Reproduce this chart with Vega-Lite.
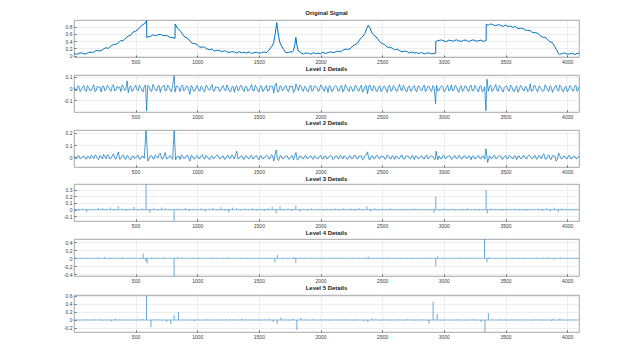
{
"$schema": "https://vega.github.io/schema/vega-lite/v6.json",
"background": "white",
"padding": {"left": 62, "top": 9, "right": 5, "bottom": 5},
"config": {
  "view": {"stroke": "#8f8f8f", "strokeWidth": 0.8},
  "axis": {"labelFontSize": 5, "labelColor": "#3a3a3a", "labelFont": "Liberation Sans", "gridColor": "#e3e3e3", "gridWidth": 0.6, "domain": false, "tickColor": "#666", "tickSize": -2, "labelPadding": 4, "title": null, "labelOverlap": false},
  "title": {"fontSize": 6, "fontWeight": "bold", "font": "Liberation Sans", "offset": 2.5, "color": "#1a1a1a"},
  "concat": {"spacing": 0}
},
"datasets": {
"zero": [{"v": 0}],
"sig": [
{"x":1,"y":0.062},{"x":20,"y":0.032},{"x":40,"y":0.059},{"x":60,"y":0.077},{"x":80,"y":0.052},{"x":100,"y":0.044},{"x":120,"y":0.092},{"x":140,"y":0.091},{"x":160,"y":0.088},{"x":180,"y":0.142},{"x":200,"y":0.129},{"x":220,"y":0.133},{"x":240,"y":0.184},{"x":260,"y":0.216},{"x":280,"y":0.198},{"x":300,"y":0.258},{"x":320,"y":0.306},{"x":340,"y":0.307},{"x":360,"y":0.348},{"x":380,"y":0.409},{"x":400,"y":0.411},{"x":420,"y":0.484},{"x":440,"y":0.536},{"x":460,"y":0.555},{"x":480,"y":0.646},{"x":500,"y":0.673},{"x":520,"y":0.713},{"x":540,"y":0.802},{"x":560,"y":0.856},{"x":580,"y":0.892},{"x":590,"y":0.969},
{"x":591,"y":0.492},{"x":600,"y":0.519},{"x":620,"y":0.521},{"x":640,"y":0.576},{"x":660,"y":0.543},{"x":680,"y":0.571},{"x":700,"y":0.585},{"x":720,"y":0.552},{"x":740,"y":0.549},{"x":760,"y":0.547},{"x":780,"y":0.496},{"x":800,"y":0.495},{"x":820,"y":0.471},
{"x":821,"y":0.871},{"x":840,"y":0.75},{"x":860,"y":0.692},{"x":880,"y":0.596},{"x":900,"y":0.508},{"x":920,"y":0.485},{"x":940,"y":0.402},{"x":960,"y":0.339},{"x":980,"y":0.33},{"x":1000,"y":0.303},{"x":1020,"y":0.229},{"x":1040,"y":0.235},{"x":1060,"y":0.23},{"x":1080,"y":0.178},{"x":1100,"y":0.167},{"x":1120,"y":0.175},{"x":1140,"y":0.124},{"x":1160,"y":0.144},{"x":1180,"y":0.141},{"x":1200,"y":0.103},{"x":1220,"y":0.136},{"x":1240,"y":0.104},{"x":1260,"y":0.082},{"x":1280,"y":0.108},{"x":1300,"y":0.097},{"x":1320,"y":0.065},{"x":1340,"y":0.106},{"x":1360,"y":0.077},{"x":1380,"y":0.092},{"x":1400,"y":0.067},{"x":1420,"y":0.103},{"x":1440,"y":0.057},{"x":1460,"y":0.079},{"x":1480,"y":0.092},{"x":1500,"y":0.066},{"x":1520,"y":0.077},{"x":1540,"y":0.099},{"x":1560,"y":0.084},{"x":1580,"y":0.143},{"x":1600,"y":0.234},{"x":1610,"y":0.272},{"x":1620,"y":0.361},{"x":1630,"y":0.552},{"x":1640,"y":0.769},{"x":1645,"y":0.907},{"x":1650,"y":0.792},{"x":1660,"y":0.533},{"x":1670,"y":0.363},{"x":1680,"y":0.29},{"x":1700,"y":0.172},{"x":1720,"y":0.076},{"x":1740,"y":0.087},{"x":1760,"y":0.106},{"x":1770,"y":0.09},{"x":1780,"y":0.139},{"x":1790,"y":0.267},{"x":1800,"y":0.5},{"x":1810,"y":0.261},{"x":1820,"y":0.125},{"x":1830,"y":0.119},{"x":1840,"y":0.073},{"x":1860,"y":0.044},{"x":1880,"y":0.071},{"x":1900,"y":0.064},{"x":1920,"y":0.035},{"x":1940,"y":0.079},{"x":1960,"y":0.052},{"x":1980,"y":0.069},{"x":2000,"y":0.046},{"x":2020,"y":0.096},{"x":2040,"y":0.055},{"x":2060,"y":0.082},{"x":2080,"y":0.101},{"x":2100,"y":0.08},{"x":2120,"y":0.097},{"x":2140,"y":0.122},{"x":2160,"y":0.104},{"x":2180,"y":0.144},{"x":2200,"y":0.177},{"x":2220,"y":0.171},{"x":2240,"y":0.186},{"x":2260,"y":0.263},{"x":2280,"y":0.298},{"x":2300,"y":0.34},{"x":2320,"y":0.452},{"x":2340,"y":0.513},{"x":2360,"y":0.61},{"x":2375,"y":0.744},{"x":2387,"y":0.835},{"x":2400,"y":0.762},{"x":2420,"y":0.603},{"x":2440,"y":0.541},{"x":2460,"y":0.479},{"x":2480,"y":0.38},{"x":2500,"y":0.33},{"x":2520,"y":0.307},{"x":2540,"y":0.23},{"x":2560,"y":0.228},{"x":2580,"y":0.207},{"x":2600,"y":0.155},{"x":2620,"y":0.177},{"x":2640,"y":0.135},{"x":2660,"y":0.105},{"x":2680,"y":0.125},{"x":2700,"y":0.109},{"x":2720,"y":0.072},{"x":2740,"y":0.1},{"x":2760,"y":0.068},{"x":2780,"y":0.081},{"x":2800,"y":0.054},{"x":2820,"y":0.088},{"x":2840,"y":0.042},{"x":2860,"y":0.063},{"x":2880,"y":0.075},{"x":2900,"y":0.045},{"x":2920,"y":0.058},{"x":2934,"y":0.069},
{"x":2935,"y":0.392},{"x":2960,"y":0.417},{"x":2980,"y":0.431},{"x":3000,"y":0.401},{"x":3020,"y":0.386},{"x":3040,"y":0.425},{"x":3060,"y":0.413},{"x":3080,"y":0.397},{"x":3100,"y":0.436},{"x":3120,"y":0.406},{"x":3140,"y":0.39},{"x":3160,"y":0.42},{"x":3180,"y":0.428},{"x":3200,"y":0.383},{"x":3220,"y":0.415},{"x":3240,"y":0.432},{"x":3260,"y":0.399},{"x":3280,"y":0.404},{"x":3300,"y":0.427},{"x":3320,"y":0.388},{"x":3343,"y":0.418},
{"x":3344,"y":0.864},{"x":3360,"y":0.834},{"x":3380,"y":0.873},{"x":3400,"y":0.844},{"x":3420,"y":0.824},{"x":3440,"y":0.85},{"x":3460,"y":0.837},{"x":3480,"y":0.802},{"x":3500,"y":0.839},{"x":3520,"y":0.803},{"x":3540,"y":0.81},{"x":3560,"y":0.776},{"x":3580,"y":0.801},{"x":3600,"y":0.743},{"x":3620,"y":0.751},{"x":3640,"y":0.749},{"x":3660,"y":0.703},{"x":3680,"y":0.692},{"x":3700,"y":0.685},{"x":3720,"y":0.632},{"x":3740,"y":0.631},{"x":3760,"y":0.616},{"x":3780,"y":0.555},{"x":3800,"y":0.505},{"x":3820,"y":0.505},{"x":3840,"y":0.448},{"x":3860,"y":0.381},{"x":3880,"y":0.358},{"x":3900,"y":0.248},{"x":3910,"y":0.178},{"x":3920,"y":0.132},{"x":3926,"y":0.068},{"x":3940,"y":0.033},{"x":3960,"y":0.055},{"x":3980,"y":0.072},{"x":4000,"y":0.039},{"x":4020,"y":0.044},{"x":4040,"y":0.067},{"x":4060,"y":0.028},{"x":4080,"y":0.058},{"x":4096,"y":0.064}
],
"d1": [
{"x":1,"y":0.012},{"x":21,"y":-0.021},{"x":41,"y":0.018},{"x":61,"y":-0.009},{"x":81,"y":0.027},{"x":101,"y":-0.025},{"x":121,"y":0.006},{"x":141,"y":-0.014},{"x":161,"y":0.031},{"x":181,"y":-0.018},{"x":201,"y":0.01},{"x":221,"y":-0.03},{"x":241,"y":0.022},{"x":261,"y":-0.006},{"x":281,"y":0.015},{"x":301,"y":-0.024},{"x":321,"y":0.034},{"x":341,"y":-0.012},{"x":361,"y":0.004},{"x":381,"y":-0.027},{"x":401,"y":0.019},{"x":421,"y":-0.008},{"x":432,"y":0.065},{"x":441,"y":-0.035},{"x":461,"y":0.024},{"x":481,"y":-0.016},{"x":501,"y":0.028},{"x":521,"y":-0.02},{"x":541,"y":0.011},{"x":561,"y":-0.029},{"x":581,"y":0.03},{"x":590,"y":-0.19},{"x":599,"y":0.026},{"x":621,"y":-0.018},{"x":641,"y":0.035},{"x":661,"y":-0.01},{"x":681,"y":0.02},{"x":701,"y":-0.033},{"x":721,"y":0.014},{"x":741,"y":-0.022},{"x":761,"y":0.029},{"x":781,"y":-0.012},{"x":801,"y":0.024},{"x":813,"y":0.11},{"x":821,"y":-0.03},{"x":841,"y":0.017},{"x":861,"y":-0.026},{"x":881,"y":0.031},{"x":901,"y":-0.009},{"x":921,"y":0.022},{"x":941,"y":-0.05},{"x":961,"y":0.013},{"x":981,"y":-0.019},{"x":1001,"y":0.026},{"x":1021,"y":-0.024},{"x":1041,"y":0.009},{"x":1061,"y":-0.031},{"x":1081,"y":0.02},{"x":1101,"y":-0.014},{"x":1121,"y":0.033},{"x":1141,"y":-0.02},{"x":1161,"y":0.007},{"x":1181,"y":-0.028},{"x":1201,"y":0.018},{"x":1221,"y":-0.011},{"x":1241,"y":0.03},{"x":1261,"y":-0.023},{"x":1281,"y":0.012},{"x":1301,"y":-0.032},{"x":1321,"y":0.025},{"x":1341,"y":-0.006},{"x":1361,"y":0.021},{"x":1381,"y":-0.027},{"x":1401,"y":0.016},{"x":1421,"y":-0.015},{"x":1441,"y":0.034},{"x":1461,"y":-0.021},{"x":1481,"y":0.008},{"x":1501,"y":-0.03},{"x":1521,"y":0.023},{"x":1541,"y":-0.012},{"x":1561,"y":0.027},{"x":1581,"y":-0.019},{"x":1601,"y":0.014},{"x":1621,"y":-0.04},{"x":1641,"y":0.045},{"x":1661,"y":-0.025},{"x":1681,"y":0.019},{"x":1701,"y":-0.01},{"x":1721,"y":0.026},{"x":1741,"y":-0.029},{"x":1761,"y":0.011},{"x":1781,"y":-0.035},{"x":1801,"y":0.038},{"x":1821,"y":-0.017},{"x":1841,"y":0.022},{"x":1861,"y":-0.024},{"x":1881,"y":0.009},{"x":1901,"y":-0.03},{"x":1921,"y":0.028},{"x":1941,"y":-0.013},{"x":1961,"y":0.017},{"x":1981,"y":-0.026},{"x":2001,"y":0.031},{"x":2021,"y":-0.008},{"x":2041,"y":0.02},{"x":2061,"y":-0.034},{"x":2081,"y":0.015},{"x":2101,"y":-0.018},{"x":2121,"y":0.025},{"x":2141,"y":-0.022},{"x":2161,"y":0.012},{"x":2181,"y":-0.029},{"x":2201,"y":0.033},{"x":2221,"y":-0.011},{"x":2241,"y":0.019},{"x":2261,"y":-0.025},{"x":2281,"y":0.027},{"x":2301,"y":-0.016},{"x":2321,"y":0.008},{"x":2341,"y":-0.031},{"x":2361,"y":0.022},{"x":2381,"y":-0.045},{"x":2401,"y":0.03},{"x":2421,"y":-0.02},{"x":2441,"y":0.014},{"x":2461,"y":-0.027},{"x":2481,"y":0.024},{"x":2501,"y":-0.009},{"x":2521,"y":0.018},{"x":2541,"y":-0.032},{"x":2561,"y":0.029},{"x":2581,"y":-0.014},{"x":2601,"y":0.011},{"x":2621,"y":-0.025},{"x":2641,"y":0.035},{"x":2661,"y":-0.019},{"x":2681,"y":0.006},{"x":2701,"y":-0.028},{"x":2721,"y":0.021},{"x":2741,"y":-0.013},{"x":2761,"y":0.026},{"x":2781,"y":-0.03},{"x":2801,"y":0.016},{"x":2821,"y":-0.021},{"x":2841,"y":0.03},{"x":2861,"y":-0.007},{"x":2881,"y":0.019},{"x":2901,"y":-0.026},{"x":2921,"y":0.013},{"x":2933,"y":-0.13},{"x":2941,"y":0.028},{"x":2961,"y":-0.017},{"x":2981,"y":0.024},{"x":3001,"y":-0.029},{"x":3021,"y":0.01},{"x":3041,"y":-0.022},{"x":3061,"y":0.032},{"x":3081,"y":-0.012},{"x":3101,"y":0.018},{"x":3121,"y":-0.033},{"x":3141,"y":0.025},{"x":3161,"y":-0.008},{"x":3181,"y":0.02},{"x":3201,"y":-0.027},{"x":3221,"y":0.029},{"x":3241,"y":-0.016},{"x":3261,"y":0.012},{"x":3281,"y":-0.03},{"x":3301,"y":0.023},{"x":3321,"y":-0.019},{"x":3341,"y":-0.19},{"x":3350,"y":0.08},{"x":3361,"y":-0.021},{"x":3381,"y":0.027},{"x":3401,"y":-0.011},{"x":3421,"y":0.034},{"x":3441,"y":-0.024},{"x":3461,"y":0.015},{"x":3481,"y":-0.03},{"x":3501,"y":0.021},{"x":3521,"y":-0.014},{"x":3541,"y":0.029},{"x":3561,"y":-0.02},{"x":3581,"y":0.009},{"x":3601,"y":-0.032},{"x":3621,"y":0.026},{"x":3641,"y":-0.012},{"x":3661,"y":0.019},{"x":3681,"y":-0.027},{"x":3701,"y":0.04},{"x":3721,"y":-0.017},{"x":3741,"y":0.022},{"x":3761,"y":-0.029},{"x":3781,"y":0.013},{"x":3801,"y":-0.023},{"x":3821,"y":0.031},{"x":3841,"y":-0.01},{"x":3861,"y":0.024},{"x":3881,"y":-0.033},{"x":3901,"y":0.018},{"x":3921,"y":-0.015},{"x":3941,"y":0.028},{"x":3961,"y":-0.021},{"x":3981,"y":0.011},{"x":4001,"y":-0.028},{"x":4021,"y":0.025},{"x":4041,"y":-0.013},{"x":4061,"y":0.02},{"x":4081,"y":-0.025},{"x":4096,"y":0.015},
{"x":11,"y":-0.015},{"x":31,"y":0.02},{"x":51,"y":-0.026},{"x":71,"y":0.013},{"x":91,"y":-0.018},{"x":111,"y":0.024},{"x":131,"y":-0.02},{"x":151,"y":0.009},{"x":171,"y":-0.027},{"x":191,"y":0.021},{"x":211,"y":0.014},{"x":231,"y":0.017},{"x":251,"y":-0.019},{"x":271,"y":0.028},{"x":291,"y":-0.011},{"x":311,"y":0.018},{"x":331,"y":-0.023},{"x":351,"y":0.02},{"x":371,"y":0.012},{"x":391,"y":0.03},{"x":411,"y":-0.017},{"x":451,"y":0.01},{"x":471,"y":-0.025},{"x":491,"y":0.012},{"x":511,"y":-0.008},{"x":531,"y":0.027},{"x":551,"y":-0.015},{"x":571,"y":0.019},{"x":611,"y":0.015},{"x":631,"y":-0.027},{"x":651,"y":0.011},{"x":671,"y":-0.022},{"x":691,"y":0.025},{"x":711,"y":0.009},{"x":731,"y":0.029},{"x":751,"y":-0.016},{"x":771,"y":0.012},{"x":791,"y":-0.028},{"x":831,"y":0.022},{"x":851,"y":0.006},{"x":871,"y":0.018},{"x":891,"y":-0.021},{"x":911,"y":0.016},{"x":931,"y":-0.012},{"x":951,"y":0.026},{"x":971,"y":-0.024},{"x":991,"y":0.011},{"x":1011,"y":-0.013},{"x":1031,"y":0.02},{"x":1051,"y":-0.02},{"x":1071,"y":0.027},{"x":1091,"y":-0.009},{"x":1111,"y":0.015},{"x":1131,"y":-0.026},{"x":1151,"y":0.018},{"x":1171,"y":0.012},{"x":1191,"y":-0.016},{"x":1211,"y":0.024},{"x":1231,"y":-0.02},{"x":1251,"y":0.009},{"x":1271,"y":-0.028},{"x":1291,"y":0.019},{"x":1311,"y":0.011},{"x":1331,"y":-0.021},{"x":1351,"y":0.026},{"x":1371,"y":-0.012},{"x":1391,"y":0.018},{"x":1411,"y":-0.024},{"x":1431,"y":0.008},{"x":1451,"y":-0.017},{"x":1471,"y":0.028},{"x":1491,"y":-0.013},{"x":1511,"y":0.016},{"x":1531,"y":-0.027},{"x":1551,"y":0.01},{"x":1571,"y":-0.022},{"x":1591,"y":0.025},{"x":1611,"y":0.02},{"x":1631,"y":0.03},{"x":1651,"y":-0.03},{"x":1671,"y":0.022},{"x":1691,"y":-0.02},{"x":1711,"y":0.017},{"x":1731,"y":-0.014},{"x":1751,"y":0.024},{"x":1771,"y":0.02},{"x":1791,"y":-0.02},{"x":1811,"y":0.012},{"x":1831,"y":0.027},{"x":1851,"y":-0.013},{"x":1871,"y":0.02},{"x":1891,"y":-0.019},{"x":1911,"y":0.014},{"x":1931,"y":-0.025},{"x":1951,"y":0.022},{"x":1971,"y":0.01},{"x":1991,"y":-0.012},{"x":2011,"y":0.018},{"x":2031,"y":-0.024},{"x":2051,"y":0.009},{"x":2071,"y":0.024},{"x":2091,"y":-0.026},{"x":2111,"y":0.013},{"x":2131,"y":0.017},{"x":2151,"y":-0.021},{"x":2171,"y":0.026},{"x":2191,"y":-0.01},{"x":2211,"y":0.015},{"x":2231,"y":-0.027},{"x":2251,"y":0.011},{"x":2271,"y":-0.019},{"x":2291,"y":0.02},{"x":2311,"y":-0.023},{"x":2331,"y":0.028},{"x":2351,"y":-0.012},{"x":2371,"y":0.025},{"x":2391,"y":0.02},{"x":2411,"y":-0.011},{"x":2431,"y":0.024},{"x":2451,"y":-0.02},{"x":2471,"y":0.012},{"x":2491,"y":-0.028},{"x":2511,"y":0.017},{"x":2531,"y":-0.01},{"x":2551,"y":0.021},{"x":2571,"y":-0.024},{"x":2591,"y":0.026},{"x":2611,"y":-0.018},{"x":2631,"y":0.01},{"x":2651,"y":-0.012},{"x":2671,"y":0.027},{"x":2691,"y":-0.02},{"x":2711,"y":0.016},{"x":2731,"y":-0.025},{"x":2751,"y":0.012},{"x":2771,"y":-0.016},{"x":2791,"y":0.023},{"x":2811,"y":-0.009},{"x":2831,"y":0.011},{"x":2851,"y":-0.027},{"x":2871,"y":0.02},{"x":2891,"y":-0.014},{"x":2911,"y":0.025},{"x":2951,"y":-0.022},{"x":2971,"y":0.01},{"x":2991,"y":0.018},{"x":3011,"y":-0.019},{"x":3031,"y":0.027},{"x":3051,"y":-0.011},{"x":3071,"y":-0.02},{"x":3091,"y":0.026},{"x":3111,"y":-0.014},{"x":3131,"y":0.012},{"x":3151,"y":-0.025},{"x":3171,"y":0.021},{"x":3191,"y":-0.012},{"x":3211,"y":0.017},{"x":3231,"y":-0.022},{"x":3251,"y":0.026},{"x":3271,"y":-0.01},{"x":3291,"y":0.019},{"x":3311,"y":-0.027},{"x":3331,"y":0.014},{"x":3371,"y":0.016},{"x":3391,"y":-0.026},{"x":3411,"y":0.012},{"x":3431,"y":-0.018},{"x":3451,"y":0.025},{"x":3471,"y":-0.012},{"x":3491,"y":0.01},{"x":3511,"y":0.02},{"x":3531,"y":-0.024},{"x":3551,"y":0.016},{"x":3571,"y":-0.028},{"x":3591,"y":0.023},{"x":3611,"y":-0.01},{"x":3631,"y":0.018},{"x":3651,"y":-0.022},{"x":3671,"y":0.011},{"x":3691,"y":-0.016},{"x":3711,"y":-0.025},{"x":3731,"y":0.027},{"x":3751,"y":-0.012},{"x":3771,"y":0.02},{"x":3791,"y":-0.009},{"x":3811,"y":-0.02},{"x":3831,"y":0.017},{"x":3851,"y":-0.026},{"x":3871,"y":0.012},{"x":3891,"y":-0.01},{"x":3911,"y":0.027},{"x":3931,"y":-0.022},{"x":3951,"y":0.014},{"x":3971,"y":-0.027},{"x":3991,"y":0.02},{"x":4011,"y":-0.012},{"x":4031,"y":0.016},{"x":4051,"y":-0.024},{"x":4071,"y":0.028},{"x":4089,"y":-0.01}
],
"d2": [
{"x":1,"y":0.008},{"x":21,"y":-0.012},{"x":41,"y":0.015},{"x":61,"y":-0.006},{"x":81,"y":0.011},{"x":101,"y":-0.015},{"x":121,"y":0.004},{"x":141,"y":0.018},{"x":161,"y":-0.009},{"x":181,"y":0.013},{"x":201,"y":-0.018},{"x":221,"y":0.007},{"x":241,"y":0.025},{"x":261,"y":-0.011},{"x":281,"y":0.016},{"x":301,"y":-0.008},{"x":321,"y":0.03},{"x":341,"y":-0.014},{"x":361,"y":0.045},{"x":381,"y":-0.01},{"x":401,"y":0.021},{"x":421,"y":-0.016},{"x":441,"y":0.009},{"x":461,"y":-0.022},{"x":481,"y":0.014},{"x":501,"y":-0.005},{"x":521,"y":0.017},{"x":541,"y":-0.012},{"x":561,"y":0.01},{"x":585,"y":0.22},{"x":600,"y":-0.03},{"x":621,"y":0.012},{"x":641,"y":-0.01},{"x":661,"y":0.02},{"x":681,"y":-0.007},{"x":701,"y":0.035},{"x":721,"y":-0.013},{"x":741,"y":0.04},{"x":761,"y":-0.009},{"x":781,"y":0.016},{"x":801,"y":-0.015},{"x":813,"y":0.22},{"x":825,"y":-0.02},{"x":841,"y":0.011},{"x":861,"y":-0.017},{"x":881,"y":0.014},{"x":901,"y":-0.006},{"x":921,"y":0.019},{"x":941,"y":-0.03},{"x":961,"y":0.01},{"x":981,"y":-0.012},{"x":1001,"y":0.016},{"x":1021,"y":-0.008},{"x":1041,"y":0.024},{"x":1061,"y":-0.014},{"x":1081,"y":0.009},{"x":1101,"y":-0.018},{"x":1121,"y":0.013},{"x":1141,"y":-0.005},{"x":1161,"y":0.018},{"x":1181,"y":-0.011},{"x":1201,"y":0.008},{"x":1221,"y":-0.016},{"x":1241,"y":0.012},{"x":1261,"y":-0.009},{"x":1281,"y":0.021},{"x":1301,"y":-0.013},{"x":1321,"y":0.05},{"x":1341,"y":-0.007},{"x":1361,"y":0.015},{"x":1381,"y":-0.017},{"x":1401,"y":0.01},{"x":1421,"y":-0.012},{"x":1441,"y":0.019},{"x":1461,"y":-0.006},{"x":1481,"y":0.014},{"x":1501,"y":-0.02},{"x":1521,"y":0.011},{"x":1541,"y":-0.008},{"x":1561,"y":0.017},{"x":1581,"y":-0.013},{"x":1601,"y":0.02},{"x":1621,"y":-0.03},{"x":1641,"y":0.06},{"x":1661,"y":-0.025},{"x":1681,"y":0.015},{"x":1701,"y":-0.01},{"x":1721,"y":0.012},{"x":1741,"y":-0.015},{"x":1761,"y":0.009},{"x":1781,"y":-0.02},{"x":1801,"y":0.04},{"x":1821,"y":-0.015},{"x":1841,"y":0.01},{"x":1861,"y":-0.012},{"x":1881,"y":0.016},{"x":1901,"y":-0.007},{"x":1921,"y":0.013},{"x":1941,"y":-0.017},{"x":1961,"y":0.008},{"x":1981,"y":-0.01},{"x":2001,"y":0.019},{"x":2021,"y":-0.014},{"x":2041,"y":0.011},{"x":2061,"y":-0.006},{"x":2081,"y":0.015},{"x":2101,"y":-0.018},{"x":2121,"y":0.012},{"x":2141,"y":-0.009},{"x":2161,"y":0.02},{"x":2181,"y":-0.012},{"x":2201,"y":0.007},{"x":2221,"y":-0.016},{"x":2241,"y":0.014},{"x":2261,"y":-0.008},{"x":2281,"y":0.018},{"x":2301,"y":-0.013},{"x":2321,"y":0.01},{"x":2341,"y":-0.019},{"x":2361,"y":0.016},{"x":2381,"y":0.045},{"x":2401,"y":-0.02},{"x":2421,"y":0.013},{"x":2441,"y":-0.007},{"x":2461,"y":0.017},{"x":2481,"y":-0.012},{"x":2501,"y":0.009},{"x":2521,"y":-0.015},{"x":2541,"y":0.021},{"x":2561,"y":-0.01},{"x":2581,"y":0.013},{"x":2601,"y":-0.017},{"x":2621,"y":0.008},{"x":2641,"y":-0.011},{"x":2661,"y":0.019},{"x":2681,"y":-0.014},{"x":2701,"y":0.012},{"x":2721,"y":-0.006},{"x":2741,"y":0.016},{"x":2761,"y":-0.018},{"x":2781,"y":0.01},{"x":2801,"y":-0.009},{"x":2821,"y":0.015},{"x":2841,"y":-0.013},{"x":2861,"y":0.02},{"x":2881,"y":-0.008},{"x":2901,"y":0.012},{"x":2921,"y":-0.016},{"x":2937,"y":0.05},{"x":2951,"y":-0.02},{"x":2961,"y":0.011},{"x":2981,"y":-0.012},{"x":3001,"y":0.016},{"x":3021,"y":-0.007},{"x":3041,"y":0.013},{"x":3061,"y":-0.017},{"x":3081,"y":0.009},{"x":3101,"y":-0.011},{"x":3121,"y":0.018},{"x":3141,"y":-0.014},{"x":3161,"y":0.011},{"x":3181,"y":-0.006},{"x":3201,"y":0.015},{"x":3221,"y":-0.019},{"x":3241,"y":0.012},{"x":3261,"y":-0.009},{"x":3281,"y":0.017},{"x":3301,"y":-0.013},{"x":3321,"y":0.01},{"x":3341,"y":0.07},{"x":3355,"y":-0.04},{"x":3371,"y":0.014},{"x":3391,"y":-0.011},{"x":3411,"y":0.019},{"x":3431,"y":-0.008},{"x":3451,"y":0.013},{"x":3471,"y":-0.016},{"x":3491,"y":0.01},{"x":3511,"y":-0.012},{"x":3531,"y":0.017},{"x":3551,"y":-0.007},{"x":3571,"y":0.014},{"x":3591,"y":-0.018},{"x":3611,"y":0.011},{"x":3631,"y":-0.01},{"x":3651,"y":0.016},{"x":3671,"y":-0.013},{"x":3691,"y":0.02},{"x":3711,"y":-0.009},{"x":3731,"y":0.012},{"x":3751,"y":-0.015},{"x":3771,"y":0.018},{"x":3791,"y":-0.011},{"x":3811,"y":0.03},{"x":3831,"y":-0.014},{"x":3851,"y":0.022},{"x":3871,"y":-0.017},{"x":3891,"y":0.013},{"x":3911,"y":-0.03},{"x":3931,"y":0.035},{"x":3951,"y":-0.012},{"x":3971,"y":0.011},{"x":3991,"y":-0.009},{"x":4011,"y":0.016},{"x":4031,"y":-0.013},{"x":4051,"y":0.01},{"x":4071,"y":-0.008},{"x":4096,"y":0.012},
{"x":11,"y":-0.006},{"x":31,"y":0.01},{"x":51,"y":-0.012},{"x":71,"y":0.008},{"x":91,"y":-0.004},{"x":111,"y":0.012},{"x":131,"y":-0.01},{"x":151,"y":0.006},{"x":171,"y":0.02},{"x":191,"y":-0.008},{"x":211,"y":0.015},{"x":231,"y":-0.012},{"x":251,"y":0.008},{"x":271,"y":0.022},{"x":291,"y":-0.01},{"x":311,"y":0.012},{"x":331,"y":-0.006},{"x":351,"y":0.018},{"x":371,"y":-0.015},{"x":391,"y":0.01},{"x":411,"y":-0.008},{"x":431,"y":0.016},{"x":451,"y":-0.012},{"x":471,"y":0.007},{"x":491,"y":-0.009},{"x":511,"y":0.011},{"x":531,"y":-0.014},{"x":551,"y":0.009},{"x":571,"y":-0.008},{"x":611,"y":-0.006},{"x":631,"y":0.015},{"x":651,"y":-0.012},{"x":671,"y":0.009},{"x":691,"y":0.022},{"x":711,"y":-0.01},{"x":731,"y":0.014},{"x":751,"y":-0.012},{"x":771,"y":0.007},{"x":791,"y":-0.006},{"x":851,"y":0.01},{"x":871,"y":0.02},{"x":891,"y":-0.01},{"x":911,"y":0.012},{"x":931,"y":-0.008},{"x":951,"y":0.016},{"x":971,"y":-0.012},{"x":991,"y":0.008},{"x":1011,"y":-0.011},{"x":1031,"y":0.013},{"x":1051,"y":-0.007},{"x":1071,"y":0.017},{"x":1091,"y":-0.01},{"x":1111,"y":0.006},{"x":1131,"y":-0.012},{"x":1151,"y":0.01},{"x":1171,"y":0.015},{"x":1191,"y":-0.008},{"x":1211,"y":0.012},{"x":1231,"y":-0.01},{"x":1251,"y":0.018},{"x":1271,"y":-0.006},{"x":1291,"y":0.01},{"x":1311,"y":0.022},{"x":1331,"y":-0.012},{"x":1351,"y":0.008},{"x":1371,"y":-0.01},{"x":1391,"y":0.014},{"x":1411,"y":-0.007},{"x":1431,"y":0.009},{"x":1451,"y":-0.013},{"x":1471,"y":0.011},{"x":1491,"y":-0.006},{"x":1511,"y":0.013},{"x":1531,"y":-0.011},{"x":1551,"y":0.008},{"x":1571,"y":0.012},{"x":1591,"y":-0.009},{"x":1611,"y":0.015},{"x":1631,"y":0.02},{"x":1651,"y":-0.015},{"x":1671,"y":0.01},{"x":1691,"y":-0.012},{"x":1711,"y":0.008},{"x":1731,"y":0.011},{"x":1751,"y":-0.01},{"x":1771,"y":0.014},{"x":1791,"y":0.01},{"x":1811,"y":-0.02},{"x":1831,"y":0.012},{"x":1851,"y":-0.007},{"x":1871,"y":0.01},{"x":1891,"y":-0.012},{"x":1911,"y":0.009},{"x":1931,"y":-0.006},{"x":1951,"y":0.014},{"x":1971,"y":-0.011},{"x":1991,"y":0.008},{"x":2011,"y":-0.009},{"x":2031,"y":0.012},{"x":2051,"y":-0.012},{"x":2071,"y":0.009},{"x":2091,"y":0.011},{"x":2111,"y":-0.008},{"x":2131,"y":0.013},{"x":2151,"y":-0.011},{"x":2171,"y":0.008},{"x":2191,"y":0.012},{"x":2211,"y":-0.01},{"x":2231,"y":0.009},{"x":2251,"y":-0.012},{"x":2271,"y":0.016},{"x":2291,"y":-0.008},{"x":2311,"y":0.011},{"x":2331,"y":0.014},{"x":2351,"y":-0.01},{"x":2371,"y":0.02},{"x":2391,"y":-0.012},{"x":2411,"y":0.009},{"x":2431,"y":-0.011},{"x":2451,"y":0.013},{"x":2471,"y":-0.007},{"x":2491,"y":0.011},{"x":2511,"y":0.008},{"x":2531,"y":-0.01},{"x":2551,"y":0.012},{"x":2571,"y":-0.013},{"x":2591,"y":0.009},{"x":2611,"y":0.011},{"x":2631,"y":-0.008},{"x":2651,"y":0.014},{"x":2671,"y":-0.01},{"x":2691,"y":0.008},{"x":2711,"y":0.011},{"x":2731,"y":-0.012},{"x":2751,"y":0.009},{"x":2771,"y":0.013},{"x":2791,"y":-0.011},{"x":2811,"y":0.008},{"x":2831,"y":-0.009},{"x":2851,"y":0.012},{"x":2871,"y":-0.012},{"x":2891,"y":0.01},{"x":2911,"y":0.008},{"x":2931,"y":-0.015},{"x":2971,"y":-0.009},{"x":2991,"y":0.012},{"x":3011,"y":-0.01},{"x":3031,"y":0.008},{"x":3051,"y":0.011},{"x":3071,"y":-0.012},{"x":3091,"y":0.014},{"x":3111,"y":-0.008},{"x":3131,"y":0.01},{"x":3151,"y":-0.011},{"x":3171,"y":0.013},{"x":3191,"y":-0.009},{"x":3211,"y":0.008},{"x":3231,"y":0.011},{"x":3251,"y":-0.012},{"x":3271,"y":0.01},{"x":3291,"y":-0.007},{"x":3311,"y":0.012},{"x":3331,"y":-0.015},{"x":3381,"y":-0.008},{"x":3401,"y":0.012},{"x":3421,"y":-0.01},{"x":3441,"y":0.009},{"x":3461,"y":0.012},{"x":3481,"y":-0.011},{"x":3501,"y":0.014},{"x":3521,"y":-0.008},{"x":3541,"y":0.01},{"x":3561,"y":-0.012},{"x":3581,"y":0.009},{"x":3601,"y":0.011},{"x":3621,"y":-0.01},{"x":3641,"y":0.013},{"x":3661,"y":-0.008},{"x":3681,"y":0.009},{"x":3701,"y":0.012},{"x":3721,"y":-0.011},{"x":3741,"y":0.016},{"x":3761,"y":-0.01},{"x":3781,"y":0.009},{"x":3801,"y":0.02},{"x":3821,"y":-0.012},{"x":3841,"y":0.01},{"x":3861,"y":-0.012},{"x":3881,"y":0.015},{"x":3901,"y":0.01},{"x":3921,"y":-0.015},{"x":3941,"y":0.012},{"x":3961,"y":-0.01},{"x":3981,"y":0.009},{"x":4001,"y":-0.011},{"x":4021,"y":0.012},{"x":4041,"y":-0.009},{"x":4061,"y":0.011},{"x":4081,"y":-0.01}
],
"d3": [
{"x":8,"y":0.01},{"x":40,"y":-0.02},{"x":72,"y":0.015},{"x":104,"y":-0.04},{"x":136,"y":0.012},{"x":168,"y":-0.008},{"x":200,"y":0.025},{"x":232,"y":0.02},{"x":264,"y":-0.01},{"x":296,"y":0.03},{"x":328,"y":-0.012},{"x":360,"y":0.05},{"x":392,"y":0.015},{"x":424,"y":-0.02},{"x":456,"y":0.01},{"x":488,"y":0.04},{"x":520,"y":-0.015},{"x":552,"y":0.02},{"x":585,"y":0.38},{"x":616,"y":-0.05},{"x":648,"y":0.02},{"x":680,"y":-0.015},{"x":712,"y":0.03},{"x":744,"y":0.018},{"x":776,"y":-0.012},{"x":813,"y":-0.17},{"x":840,"y":0.015},{"x":872,"y":-0.01},{"x":904,"y":0.022},{"x":936,"y":-0.018},{"x":968,"y":0.012},{"x":1000,"y":-0.008},{"x":1032,"y":0.02},{"x":1064,"y":-0.03},{"x":1096,"y":0.015},{"x":1128,"y":0.025},{"x":1160,"y":-0.01},{"x":1192,"y":0.035},{"x":1224,"y":-0.02},{"x":1256,"y":-0.045},{"x":1288,"y":0.03},{"x":1320,"y":0.02},{"x":1352,"y":-0.012},{"x":1384,"y":0.015},{"x":1416,"y":-0.01},{"x":1448,"y":0.018},{"x":1480,"y":-0.015},{"x":1512,"y":0.012},{"x":1544,"y":-0.02},{"x":1576,"y":0.02},{"x":1608,"y":0.04},{"x":1640,"y":-0.06},{"x":1672,"y":0.05},{"x":1704,"y":-0.012},{"x":1736,"y":0.015},{"x":1768,"y":-0.02},{"x":1800,"y":0.06},{"x":1832,"y":-0.03},{"x":1864,"y":0.01},{"x":1896,"y":-0.012},{"x":1928,"y":0.016},{"x":1960,"y":-0.008},{"x":1992,"y":0.012},{"x":2024,"y":-0.015},{"x":2056,"y":0.01},{"x":2088,"y":-0.01},{"x":2120,"y":0.014},{"x":2152,"y":-0.012},{"x":2184,"y":0.018},{"x":2216,"y":-0.01},{"x":2248,"y":0.015},{"x":2280,"y":-0.018},{"x":2312,"y":0.02},{"x":2344,"y":-0.012},{"x":2376,"y":0.045},{"x":2408,"y":-0.03},{"x":2440,"y":0.018},{"x":2472,"y":-0.015},{"x":2504,"y":0.012},{"x":2536,"y":-0.01},{"x":2568,"y":0.016},{"x":2600,"y":-0.012},{"x":2632,"y":0.01},{"x":2664,"y":-0.014},{"x":2696,"y":0.012},{"x":2728,"y":-0.008},{"x":2760,"y":0.015},{"x":2792,"y":-0.01},{"x":2824,"y":0.012},{"x":2856,"y":-0.012},{"x":2888,"y":0.01},{"x":2920,"y":-0.05},{"x":2935,"y":0.2},{"x":2968,"y":-0.02},{"x":3000,"y":0.015},{"x":3032,"y":-0.01},{"x":3064,"y":0.012},{"x":3096,"y":-0.015},{"x":3128,"y":0.01},{"x":3160,"y":-0.012},{"x":3192,"y":0.016},{"x":3224,"y":-0.008},{"x":3256,"y":0.012},{"x":3288,"y":-0.014},{"x":3320,"y":0.01},{"x":3343,"y":0.3},{"x":3352,"y":-0.06},{"x":3384,"y":0.015},{"x":3416,"y":-0.012},{"x":3448,"y":0.01},{"x":3480,"y":-0.015},{"x":3512,"y":0.012},{"x":3544,"y":-0.01},{"x":3576,"y":0.015},{"x":3608,"y":-0.012},{"x":3640,"y":0.01},{"x":3672,"y":-0.016},{"x":3704,"y":0.012},{"x":3736,"y":-0.01},{"x":3768,"y":0.014},{"x":3800,"y":-0.018},{"x":3832,"y":0.02},{"x":3864,"y":-0.025},{"x":3896,"y":0.03},{"x":3928,"y":-0.035},{"x":3960,"y":0.015},{"x":3992,"y":-0.01},{"x":4024,"y":0.012},{"x":4056,"y":-0.012},{"x":4088,"y":0.01}
],
"d4": [
{"x":8,"y":0.01},{"x":56,"y":-0.012},{"x":104,"y":0.015},{"x":152,"y":-0.01},{"x":200,"y":0.02},{"x":248,"y":0.03},{"x":296,"y":-0.015},{"x":344,"y":0.012},{"x":392,"y":0.025},{"x":440,"y":-0.01},{"x":488,"y":0.015},{"x":536,"y":-0.012},{"x":562,"y":0.12},{"x":584,"y":-0.08},{"x":594,"y":-0.13},{"x":632,"y":0.02},{"x":680,"y":-0.015},{"x":728,"y":0.025},{"x":776,"y":0.01},{"x":813,"y":-0.44},{"x":840,"y":0.03},{"x":872,"y":0.015},{"x":920,"y":-0.012},{"x":968,"y":0.02},{"x":1016,"y":0.015},{"x":1064,"y":-0.01},{"x":1112,"y":0.018},{"x":1160,"y":0.012},{"x":1208,"y":-0.015},{"x":1256,"y":0.02},{"x":1304,"y":0.012},{"x":1352,"y":-0.01},{"x":1400,"y":0.015},{"x":1448,"y":-0.012},{"x":1496,"y":0.01},{"x":1544,"y":0.012},{"x":1592,"y":-0.015},{"x":1630,"y":-0.1},{"x":1650,"y":0.08},{"x":1688,"y":-0.02},{"x":1736,"y":0.012},{"x":1784,"y":0.03},{"x":1800,"y":-0.12},{"x":1832,"y":0.015},{"x":1880,"y":-0.01},{"x":1928,"y":0.012},{"x":1976,"y":-0.015},{"x":2024,"y":0.01},{"x":2072,"y":0.012},{"x":2120,"y":-0.01},{"x":2168,"y":0.015},{"x":2216,"y":-0.012},{"x":2264,"y":0.01},{"x":2312,"y":0.015},{"x":2360,"y":-0.02},{"x":2387,"y":0.04},{"x":2408,"y":-0.015},{"x":2456,"y":0.012},{"x":2504,"y":-0.01},{"x":2552,"y":0.015},{"x":2600,"y":-0.012},{"x":2648,"y":0.01},{"x":2696,"y":0.012},{"x":2744,"y":-0.015},{"x":2792,"y":0.01},{"x":2840,"y":-0.012},{"x":2888,"y":0.015},{"x":2935,"y":-0.2},{"x":2950,"y":0.05},{"x":2984,"y":-0.015},{"x":3032,"y":0.012},{"x":3080,"y":-0.01},{"x":3128,"y":0.015},{"x":3176,"y":-0.012},{"x":3224,"y":0.01},{"x":3272,"y":0.012},{"x":3330,"y":0.48},{"x":3350,"y":-0.1},{"x":3368,"y":0.02},{"x":3416,"y":-0.012},{"x":3464,"y":0.01},{"x":3512,"y":0.015},{"x":3560,"y":-0.01},{"x":3608,"y":0.012},{"x":3656,"y":-0.015},{"x":3704,"y":0.01},{"x":3752,"y":0.015},{"x":3800,"y":-0.012},{"x":3848,"y":0.02},{"x":3896,"y":-0.03},{"x":3944,"y":0.02},{"x":3992,"y":-0.012},{"x":4040,"y":0.01},{"x":4088,"y":-0.01}
],
"d5": [
{"x":16,"y":0.01},{"x":48,"y":-0.008},{"x":80,"y":0.012},{"x":112,"y":0.015},{"x":144,"y":-0.01},{"x":176,"y":0.012},{"x":208,"y":0.02},{"x":240,"y":-0.012},{"x":272,"y":0.01},{"x":304,"y":-0.03},{"x":336,"y":0.03},{"x":368,"y":0.015},{"x":400,"y":-0.012},{"x":432,"y":0.01},{"x":464,"y":0.012},{"x":496,"y":-0.01},{"x":528,"y":0.015},{"x":560,"y":0.03},{"x":589,"y":0.6},{"x":625,"y":-0.18},{"x":656,"y":0.02},{"x":688,"y":0.012},{"x":720,"y":-0.015},{"x":752,"y":-0.05},{"x":786,"y":-0.1},{"x":813,"y":0.12},{"x":848,"y":0.2},{"x":880,"y":0.015},{"x":912,"y":-0.012},{"x":944,"y":0.01},{"x":976,"y":-0.03},{"x":1008,"y":0.012},{"x":1040,"y":-0.01},{"x":1072,"y":0.015},{"x":1104,"y":0.012},{"x":1136,"y":-0.01},{"x":1168,"y":0.015},{"x":1200,"y":-0.012},{"x":1232,"y":0.01},{"x":1264,"y":0.02},{"x":1296,"y":0.015},{"x":1328,"y":-0.012},{"x":1360,"y":0.03},{"x":1392,"y":0.012},{"x":1424,"y":-0.01},{"x":1456,"y":0.015},{"x":1488,"y":0.012},{"x":1520,"y":-0.015},{"x":1552,"y":0.01},{"x":1584,"y":0.03},{"x":1616,"y":-0.05},{"x":1648,"y":-0.1},{"x":1680,"y":0.06},{"x":1712,"y":0.012},{"x":1744,"y":-0.015},{"x":1776,"y":0.03},{"x":1808,"y":-0.25},{"x":1840,"y":0.05},{"x":1872,"y":0.012},{"x":1904,"y":-0.01},{"x":1936,"y":0.015},{"x":1968,"y":-0.012},{"x":2000,"y":0.01},{"x":2032,"y":0.012},{"x":2064,"y":-0.01},{"x":2096,"y":0.015},{"x":2128,"y":0.012},{"x":2160,"y":-0.012},{"x":2192,"y":0.015},{"x":2224,"y":0.01},{"x":2256,"y":-0.015},{"x":2288,"y":0.02},{"x":2320,"y":0.015},{"x":2352,"y":-0.03},{"x":2384,"y":-0.06},{"x":2416,"y":0.04},{"x":2448,"y":0.015},{"x":2480,"y":-0.012},{"x":2512,"y":0.01},{"x":2544,"y":0.015},{"x":2576,"y":-0.01},{"x":2608,"y":0.012},{"x":2640,"y":0.01},{"x":2672,"y":-0.012},{"x":2704,"y":0.015},{"x":2736,"y":0.01},{"x":2768,"y":-0.012},{"x":2800,"y":0.012},{"x":2832,"y":0.015},{"x":2864,"y":-0.02},{"x":2880,"y":-0.1},{"x":2913,"y":0.45},{"x":2946,"y":0.15},{"x":2976,"y":-0.015},{"x":3008,"y":0.012},{"x":3040,"y":0.01},{"x":3072,"y":-0.012},{"x":3104,"y":0.015},{"x":3136,"y":0.01},{"x":3168,"y":-0.01},{"x":3200,"y":0.012},{"x":3232,"y":0.015},{"x":3264,"y":-0.012},{"x":3302,"y":-0.05},{"x":3334,"y":-0.3},{"x":3361,"y":0.17},{"x":3392,"y":0.012},{"x":3424,"y":-0.01},{"x":3456,"y":0.015},{"x":3488,"y":0.01},{"x":3520,"y":-0.012},{"x":3552,"y":0.012},{"x":3584,"y":0.015},{"x":3616,"y":-0.01},{"x":3648,"y":0.012},{"x":3680,"y":0.01},{"x":3712,"y":-0.015},{"x":3744,"y":0.012},{"x":3776,"y":0.015},{"x":3808,"y":-0.01},{"x":3840,"y":0.012},{"x":3872,"y":-0.02},{"x":3886,"y":0.03},{"x":3904,"y":-0.015},{"x":3941,"y":0.04},{"x":3968,"y":0.012},{"x":4000,"y":-0.012},{"x":4032,"y":0.01},{"x":4064,"y":0.012}
]
},
"vconcat": [
{"title": "Original Signal", "width": 505, "height": 37, "data": {"name": "sig"},
 "mark": {"type": "line", "color": "#0072BD", "strokeWidth": 1},
 "encoding": {
  "x": {"field": "x", "type": "quantitative", "scale": {"domain": [1, 4096], "nice": false, "zero": false}, "axis": {"values": [500,1000,1500,2000,2500,3000,3500,4000], "format": "d"}},
  "y": {"field": "y", "type": "quantitative", "scale": {"domain": [-0.04, 0.98], "nice": false, "zero": false}, "axis": {"values": [0,0.2,0.4,0.6,0.8], "labelExpr": "datum.value + ''"}}
 }},
{"title": "Level 1 Details", "width": 505, "height": 37, "data": {"name": "d1"},
 "mark": {"type": "line", "color": "#0072BD", "strokeWidth": 0.7},
 "encoding": {
  "x": {"field": "x", "type": "quantitative", "scale": {"domain": [1, 4096], "nice": false, "zero": false}, "axis": {"values": [500,1000,1500,2000,2500,3000,3500,4000], "format": "d"}},
  "y": {"field": "y", "type": "quantitative", "scale": {"domain": [-0.2, 0.115], "nice": false, "zero": false}, "axis": {"values": [-0.1,0,0.1], "labelExpr": "datum.value + ''"}}
 }},
{"title": "Level 2 Details", "width": 505, "height": 37, "data": {"name": "d2"},
 "mark": {"type": "line", "color": "#0072BD", "strokeWidth": 0.7},
 "encoding": {
  "x": {"field": "x", "type": "quantitative", "scale": {"domain": [1, 4096], "nice": false, "zero": false}, "axis": {"values": [500,1000,1500,2000,2500,3000,3500,4000], "format": "d"}},
  "y": {"field": "y", "type": "quantitative", "scale": {"domain": [-0.078, 0.223], "nice": false, "zero": false}, "axis": {"values": [0,0.1,0.2], "labelExpr": "datum.value + ''"}}
 }},
{"title": "Level 3 Details", "width": 505, "height": 37,
 "layer": [
  {"data": {"name": "d3"}, "mark": {"type": "rule", "color": "#0072BD", "strokeWidth": 0.6},
   "encoding": {
    "x": {"field": "x", "type": "quantitative", "scale": {"domain": [1, 4096], "nice": false, "zero": false}, "axis": {"values": [500,1000,1500,2000,2500,3000,3500,4000], "format": "d"}},
    "y": {"field": "y", "type": "quantitative", "scale": {"domain": [-0.175, 0.39], "nice": false, "zero": false}, "axis": {"values": [-0.1,0,0.1,0.2,0.3], "labelExpr": "datum.value + ''"}},
    "y2": {"datum": 0}
   }},
  {"data": {"name": "zero"}, "mark": {"type": "rule", "color": "#4a9bd4", "strokeWidth": 0.6}, "encoding": {"y": {"field": "v", "type": "quantitative", "scale": {"domain": [-0.175, 0.39], "nice": false, "zero": false}, "axis": {"values": [-0.1,0,0.1,0.2,0.3], "labelExpr": "datum.value + ''"}}}}
 ]},
{"title": "Level 4 Details", "width": 505, "height": 37,
 "layer": [
  {"data": {"name": "d4"}, "mark": {"type": "rule", "color": "#0072BD", "strokeWidth": 0.6},
   "encoding": {
    "x": {"field": "x", "type": "quantitative", "scale": {"domain": [1, 4096], "nice": false, "zero": false}, "axis": {"values": [500,1000,1500,2000,2500,3000,3500,4000], "format": "d"}},
    "y": {"field": "y", "type": "quantitative", "scale": {"domain": [-0.44, 0.48], "nice": false, "zero": false}, "axis": {"values": [-0.4,-0.2,0,0.2,0.4], "labelExpr": "datum.value + ''"}},
    "y2": {"datum": 0}
   }},
  {"data": {"name": "zero"}, "mark": {"type": "rule", "color": "#4a9bd4", "strokeWidth": 0.6}, "encoding": {"y": {"field": "v", "type": "quantitative", "scale": {"domain": [-0.44, 0.48], "nice": false, "zero": false}, "axis": {"values": [-0.4,-0.2,0,0.2,0.4], "labelExpr": "datum.value + ''"}}}}
 ]},
{"title": "Level 5 Details", "width": 505, "height": 37,
 "layer": [
  {"data": {"name": "d5"}, "mark": {"type": "rule", "color": "#0072BD", "strokeWidth": 0.6},
   "encoding": {
    "x": {"field": "x", "type": "quantitative", "scale": {"domain": [1, 4096], "nice": false, "zero": false}, "axis": {"values": [500,1000,1500,2000,2500,3000,3500,4000], "format": "d"}},
    "y": {"field": "y", "type": "quantitative", "scale": {"domain": [-0.3, 0.62], "nice": false, "zero": false}, "axis": {"values": [-0.2,0,0.2,0.4,0.6], "labelExpr": "datum.value + ''"}},
    "y2": {"datum": 0}
   }},
  {"data": {"name": "zero"}, "mark": {"type": "rule", "color": "#4a9bd4", "strokeWidth": 0.6}, "encoding": {"y": {"field": "v", "type": "quantitative", "scale": {"domain": [-0.3, 0.62], "nice": false, "zero": false}, "axis": {"values": [-0.2,0,0.2,0.4,0.6], "labelExpr": "datum.value + ''"}}}}
 ]}
]
}
